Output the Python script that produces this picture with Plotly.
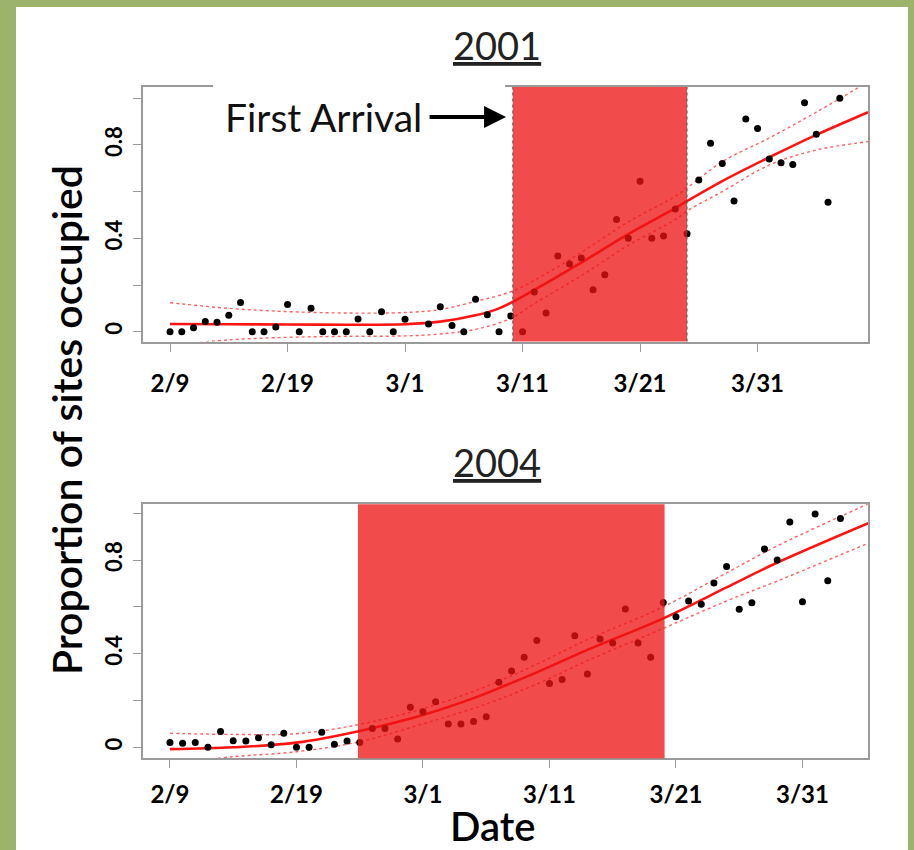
import plotly.graph_objects as go

# ---------------- data ----------------
tick_days = [0, 10, 20, 30, 40, 50]
tick_labels = ["2/9", "2/19", "3/1", "3/11", "3/21", "3/31"]

# 2001 observations (days since 2/9)
days_2001 = [0, 1, 2, 3, 4, 5, 6, 7, 8, 9, 10, 11, 12, 13, 14, 15, 16, 17, 18, 19, 20,
             22, 23, 24, 25, 26, 27, 28, 29, 30, 31, 32, 33, 34, 35, 36, 37, 38, 39, 40,
             41, 42, 43, 44, 45, 46, 47, 48, 49, 50, 51, 52, 53, 54, 55, 56, 57]
occ_2001 = [0, 0, 0.017, 0.044, 0.04, 0.07, 0.125, 0, 0, 0.02, 0.116, 0, 0.1, 0, 0, 0,
            0.054, 0, 0.085, 0, 0.053,
            0.033, 0.107, 0.026, 0, 0.139, 0.073, 0, 0.067, 0, 0.17, 0.08, 0.324, 0.29,
            0.316, 0.18, 0.244, 0.48, 0.40, 0.644, 0.40, 0.41, 0.526, 0.42, 0.65, 0.807,
            0.72, 0.56, 0.911, 0.87, 0.74, 0.724, 0.716, 0.981, 0.846, 0.554, 1.0]

fit_days_2001 = [0, 5, 10, 15, 20, 23, 26, 28, 31, 35, 39, 43, 44.1, 47, 51, 55, 59.4]
fit_2001 = [0.033, 0.032, 0.031, 0.030, 0.032, 0.043, 0.07, 0.10, 0.179, 0.296, 0.418,
            0.529, 0.562, 0.645, 0.747, 0.843, 0.94]
ci_days_2001 = [0, 5, 10, 15, 20, 23, 26, 29, 31, 35, 39, 43, 44.1, 47, 51, 55, 59.4]
ci_hi_2001 = [0.124, 0.10, 0.086, 0.08, 0.082, 0.095, 0.13, 0.171, 0.22, 0.34, 0.47,
              0.58, 0.62, 0.728, 0.83, 0.94, 1.07]
ci_lo_2001 = [-0.06, -0.035, -0.024, -0.02, -0.018, -0.01, 0.01, 0.057, 0.12, 0.24, 0.37,
              0.48, 0.52, 0.60, 0.714, 0.778, 0.814]
period_2001 = [29.17, 44.0]

# 2004 observations
days_2004 = list(range(0, 54))
occ_2004 = [0.02, 0.017, 0.021, 0.0, 0.067, 0.028, 0.027, 0.041, 0.011, 0.06, 0.0, 0.0,
            0.064, 0.013, 0.027, 0.02, 0.08, 0.08, 0.035, 0.171, 0.152, 0.195, 0.10, 0.10,
            0.11, 0.13, 0.278, 0.326, 0.385, 0.456, 0.273, 0.29, 0.477, 0.313, 0.463,
            0.446, 0.591, 0.446, 0.385, 0.618, 0.558, 0.625, 0.611, 0.702, 0.772, 0.59,
            0.617, 0.847, 0.80, 0.962, 0.622, 0.997, 0.711, 0.977]

fit_days_2004 = [0, 5, 10, 15, 20, 24, 26.6, 29, 33, 39, 44, 47.9, 55.2]
fit_2004 = [-0.008, 0.0, 0.02, 0.07, 0.138, 0.21, 0.266, 0.32, 0.416, 0.551, 0.683,
            0.786, 0.957]
ci_days_2004 = [0, 5, 10, 15, 20, 25, 29, 33, 39, 44, 48, 55.2]
ci_hi_2004 = [0.06, 0.055, 0.058, 0.098, 0.165, 0.26, 0.355, 0.46, 0.60, 0.745, 0.86, 1.04]
ci_lo_2004 = [-0.07, -0.04, -0.019, 0.024, 0.10, 0.185, 0.27, 0.37, 0.508, 0.625, 0.71,
              0.872]
period_2004 = [14.86, 39.1]

# ---------------- figure ----------------
W, H = 914, 850
FONT = "Lato"
RED = "#FF1414"
CI_RED = "rgba(255,70,70,0.85)"

fig = go.Figure()

def add_panel(xa, ya, days, occ, fdays, fit, cdays, hi, lo):
    fig.add_trace(go.Scatter(x=cdays, y=hi, mode="lines", xaxis=xa, yaxis=ya,
                             line=dict(color=CI_RED, width=1.4, dash="dot", shape="spline"),
                             hoverinfo="skip"))
    fig.add_trace(go.Scatter(x=cdays, y=lo, mode="lines", xaxis=xa, yaxis=ya,
                             line=dict(color=CI_RED, width=1.4, dash="dot", shape="spline"),
                             hoverinfo="skip"))
    fig.add_trace(go.Scatter(x=fdays, y=fit, mode="lines", xaxis=xa, yaxis=ya,
                             line=dict(color=RED, width=2.6, shape="spline")))
    fig.add_trace(go.Scatter(x=days, y=occ, mode="markers", xaxis=xa, yaxis=ya,
                             marker=dict(color="black", size=7)))

add_panel("x", "y", days_2001, occ_2001, fit_days_2001, fit_2001,
          ci_days_2001, ci_hi_2001, ci_lo_2001)
add_panel("x2", "y2", days_2004, occ_2004, fit_days_2004, fit_2004,
          ci_days_2004, ci_hi_2004, ci_lo_2004)

xdom = [143 / W, 868 / W]
ydom_top = [1 - 341.5 / H, 1 - 87 / H]
ydom_bot = [1 - 758.3 / H, 1 - 504.3 / H]

axis_common = dict(showline=True, mirror=True, linecolor="#9a9a9a", linewidth=2,
                   showgrid=False, zeroline=False, ticks="outside", ticklen=8,
                   tickcolor="#9a9a9a", tickwidth=1)

xaxis_common = dict(axis_common, tickvals=tick_days, ticktext=tick_labels,
                    tickfont=dict(family=FONT, size=24, color="black", weight="bold"))
yaxis_common = dict(axis_common, tickvals=[0, 0.2, 0.4, 0.6, 0.8, 1.0],
                    ticktext=["0", "", "0.4", "", "0.8", ""], tickangle=-90,
                    tickfont=dict(family=FONT, size=22, color="black", weight="bold"),
                    ticklabelstandoff=2)

fig.update_layout(
    width=W, height=H, margin=dict(l=0, r=0, t=0, b=0),
    paper_bgcolor="white", plot_bgcolor="white", showlegend=False,
    xaxis=dict(xaxis_common, domain=xdom, range=[-2.3, 59.4], anchor="y",
               ticklabelstandoff=12),
    yaxis=dict(yaxis_common, domain=ydom_top, range=[-0.042, 1.048], anchor="x"),
    xaxis2=dict(xaxis_common, domain=xdom, range=[-2.13, 55.18], anchor="y2",
                ticklabelstandoff=6),
    yaxis2=dict(yaxis_common, domain=ydom_bot, range=[-0.047, 1.038], anchor="x2"),
)

shapes = []
# shaded periods (drawn above points, translucent)
for xr, yr, per in (("x", "y domain", period_2001), ("x2", "y2 domain", period_2004)):
    shapes.append(dict(type="rect", xref=xr, yref=yr, x0=per[0], x1=per[1], y0=0, y1=1,
                       fillcolor="rgba(236,18,18,0.76)", line=dict(width=0), layer="above"))
for xv in period_2001:
    shapes.append(dict(type="line", xref="x", yref="y domain", x0=xv, x1=xv, y0=0, y1=1,
                       line=dict(color="#555555", width=1, dash="dot"), layer="above"))
# white box behind "First Arrival" text (covers frame)
shapes.append(dict(type="rect", xref="paper", yref="paper", x0=213 / W, x1=505 / W,
                   y0=1 - 140 / H, y1=1 - 80 / H, fillcolor="white", line=dict(width=0),
                   layer="above"))
# green slide border
GREEN = "#9BB36B"
shapes.append(dict(type="rect", xref="paper", yref="paper", x0=0, x1=16 / W, y0=0, y1=1,
                   fillcolor=GREEN, line=dict(width=0), layer="above"))
shapes.append(dict(type="rect", xref="paper", yref="paper", x0=0, x1=1, y0=1 - 7 / H, y1=1,
                   fillcolor=GREEN, line=dict(width=0), layer="above"))
shapes.append(dict(type="rect", xref="paper", yref="paper", x0=908 / W, x1=1, y0=0, y1=1,
                   fillcolor=GREEN, line=dict(width=0), layer="above"))
fig.update_layout(shapes=shapes)

ann = []
def text_ann(text, px, py, size, weight="normal", angle=0, color="black", xanchor="center"):
    ann.append(dict(text=text, x=px / W, y=1 - py / H, xref="paper", yref="paper",
                    xanchor=xanchor, yanchor="middle", showarrow=False, textangle=angle,
                    font=dict(family=FONT, size=size, color=color, weight=weight)))

text_ann("<u>2001</u>", 497, 45, 38, color="#222")
text_ann("<u>2004</u>", 497, 462, 38, color="#222")
text_ann("Proportion of sites occupied", 66, 420, 41, weight=600, angle=-90)
text_ann("Date", 492, 826, 40, weight=600)
text_ann("First Arrival", 424, 117, 39, color="#111", xanchor="right")
ann.append(dict(text="", x=28.6, y=0.92, xref="x", yref="y", showarrow=True,
                ax=-78, ay=0, axref="pixel", ayref="pixel", arrowhead=2, arrowsize=1.1,
                arrowwidth=4, arrowcolor="black", standoff=0))
fig.update_layout(annotations=ann)

fig.write_html("out.html", config={"displayModeBar": False},
               post_script="document.body.style.margin='0';document.body.style.overflow='hidden';")
